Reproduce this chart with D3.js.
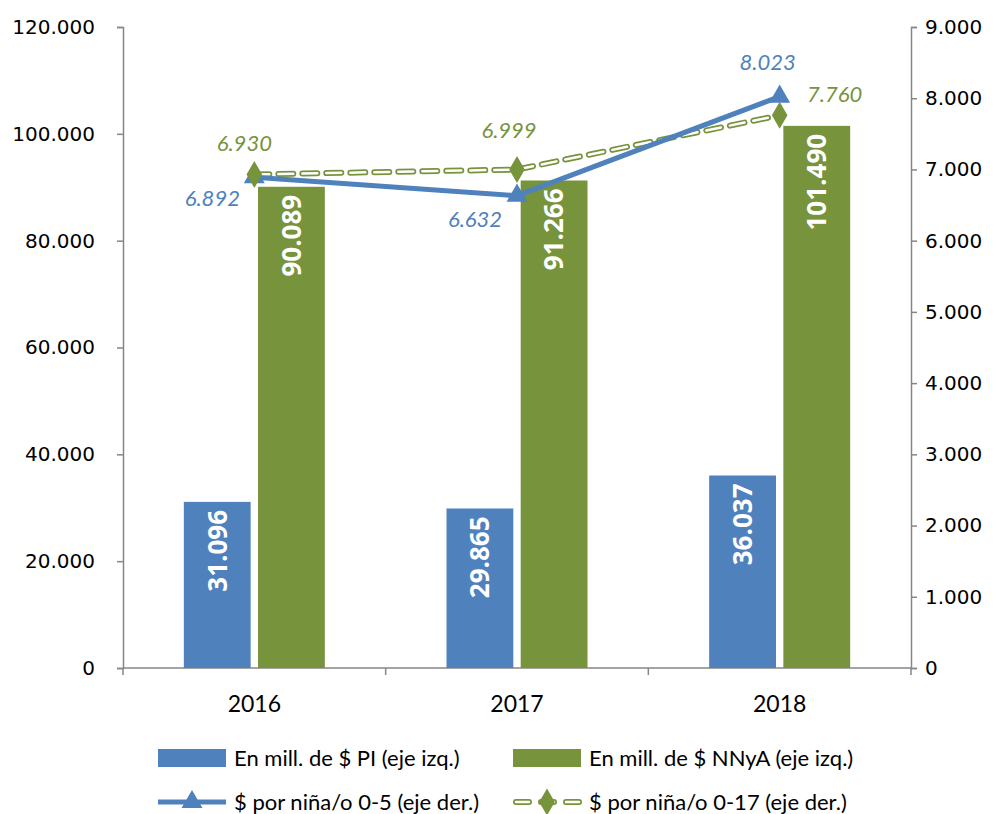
<!DOCTYPE html>
<html>
<head>
<meta charset="utf-8">
<script src="https://cdn.jsdelivr.net/npm/d3@7"></script>
<style>
  body { margin: 0; background: #fff; }
  svg { font-family: "DejaVu Sans", sans-serif; }
</style>
</head>
<body>
<div id="chart"></div>
<script>
// data
var years = ["2016", "2017", "2018"];
var montoPI = [31096, 29865, 36037];
var montoNNyA = [90089, 91266, 101490];
var porNino05 = [6892, 6632, 8023];
var porNino017 = [6930, 6999, 7760];
var leftTicks = [0, 20000, 40000, 60000, 80000, 100000, 120000];
var rightTicks = [0, 1000, 2000, 3000, 4000, 5000, 6000, 7000, 8000, 9000];
var legendLabels = ["En mill. de $ PI (eje izq.)", "En mill. de $ NNyA (eje izq.)",
                    "$ por niña/o 0-5 (eje der.)", "$ por niña/o 0-17 (eje der.)"];

var blue = "#4F81BD";
var green = "#77933C";
var axisGray = "#868686";

var svgWidth = 1000, svgHeight = 814;
var margin = { top: 27, left: 123, right: 89, bottom: 146 };
var width = svgWidth - margin.left - margin.right;
var height = svgHeight - margin.top - margin.bottom;

var fmt = function(v) { return d3.format(",")(v).replace(/,/g, "."); };

var svg = d3.select("#chart").append("svg")
    .attr("width", svgWidth)
    .attr("height", svgHeight);

var g = svg.append("g")
    .attr("transform", `translate(${margin.left}, ${margin.top})`);

// scales
var x = d3.scaleBand().domain(years).range([0, width]).paddingInner(0).paddingOuter(0);
var yLeft = d3.scaleLinear().domain([0, 120000]).range([height, 0]);
var yRight = d3.scaleLinear().domain([0, 9000]).range([height, 0]);

var barW = 67, barGap = 7;
var xBar = d3.scaleBand().domain(["pi", "nnya"]).range([-barW - barGap / 2, barW + barGap / 2]).paddingInner(barGap / (barW * 2 + barGap) * 2);

// axes
var leftAxis = g.append("g")
    .call(d3.axisLeft(yLeft).tickValues(leftTicks).tickFormat(fmt).tickSize(6).tickPadding(22));
var rightAxis = g.append("g")
    .attr("transform", `translate(${width}, 0)`)
    .call(d3.axisRight(yRight).tickValues(rightTicks).tickFormat(fmt).tickSize(6).tickPadding(8));
[leftAxis, rightAxis].forEach(function(a) {
  a.selectAll("path, line").attr("stroke", axisGray).attr("stroke-width", 1.5);
  a.selectAll("text").attr("fill", "#000").style("font-size", "20px")
      .style("font-family", "'DejaVu Sans', sans-serif");
});

// x axis with ticks on band boundaries
var xAxisG = g.append("g").attr("transform", `translate(0, ${height})`);
xAxisG.append("line").attr("x1", 0).attr("x2", width)
    .attr("stroke", axisGray).attr("stroke-width", 1.5);
xAxisG.selectAll(".tk")
    .data(years.concat(["end"]))
    .enter().append("line")
    .attr("x1", (d, i) => i * x.bandwidth())
    .attr("x2", (d, i) => i * x.bandwidth())
    .attr("y1", 0).attr("y2", 7)
    .attr("stroke", axisGray).attr("stroke-width", 1.5);
xAxisG.selectAll(".yl")
    .data(years)
    .enter().append("text")
    .attr("x", d => x(d) + x.bandwidth() / 2)
    .attr("y", 44)
    .attr("text-anchor", "middle")
    .style("font-family", "Lato, sans-serif")
    .style("font-size", "23px")
    .text(d => d);

// bars
var series = [
  { key: "pi", values: montoPI, color: blue },
  { key: "nnya", values: montoNNyA, color: green }
];
series.forEach(function(s) {
  var bars = g.append("g");
  bars.selectAll("rect")
    .data(s.values)
    .enter().append("rect")
    .attr("x", (d, i) => x(years[i]) + x.bandwidth() / 2 + xBar(s.key))
    .attr("width", xBar.bandwidth())
    .attr("y", d => yLeft(d))
    .attr("height", d => height - yLeft(d))
    .attr("fill", s.color);
  bars.selectAll("text")
    .data(s.values)
    .enter().append("text")
    .attr("transform", (d, i) => {
      var cx = x(years[i]) + x.bandwidth() / 2 + xBar(s.key) + xBar.bandwidth() / 2;
      return `translate(${cx}, ${yLeft(d) + 8}) rotate(-90)`;
    })
    .attr("text-anchor", "end")
    .attr("dy", "0.36em")
    .attr("fill", "#fff")
    .style("font-family", "'Open Sans', sans-serif")
    .style("font-weight", "bold")
    .style("font-size", "26px")
    .text(d => fmt(d));
});

// lines
var cx = (d, i) => x(years[i]) + x.bandwidth() / 2;
var lineR = d3.line().x(cx).y(d => yRight(d));

// green dashed double line
g.append("path").datum(porNino017)
  .attr("d", lineR).attr("fill", "none")
  .attr("stroke", green).attr("stroke-width", 6)
  .attr("stroke-dasharray", "15 9").attr("stroke-linecap", "round");
g.append("path").datum(porNino017)
  .attr("d", lineR).attr("fill", "none")
  .attr("stroke", "#fff").attr("stroke-width", 2.5)
  .attr("stroke-dasharray", "15 9").attr("stroke-linecap", "round");

// blue solid line
g.append("path").datum(porNino05)
  .attr("d", lineR).attr("fill", "none")
  .attr("stroke", blue).attr("stroke-width", 5);

var tri = d3.symbol().type(d3.symbolTriangle).size(190);
var dia = d3.symbol().type(d3.symbolDiamond).size(210);

g.selectAll(".tri").data(porNino05).enter().append("path")
  .attr("d", tri)
  .attr("transform", (d, i) => `translate(${cx(d, i)}, ${yRight(d)})`)
  .attr("fill", blue);
g.selectAll(".dia").data(porNino017).enter().append("path")
  .attr("d", dia)
  .attr("transform", (d, i) => `translate(${cx(d, i)}, ${yRight(d)})`)
  .attr("fill", green);

// point labels
var blueOff = [[-42, 29], [-42, 31], [-12, -27]];
var greenOff = [[-10, -23], [-8, -32], [55, -13]];
g.selectAll(".lb").data(porNino05).enter().append("text")
  .attr("x", (d, i) => cx(d, i) + blueOff[i][0])
  .attr("y", (d, i) => yRight(d) + blueOff[i][1])
  .attr("text-anchor", "middle")
  .attr("fill", blue)
  .style("font-family", "Lato, sans-serif").style("font-style", "italic")
  .style("font-size", "22px")
  .text(d => fmt(d));
g.selectAll(".lg").data(porNino017).enter().append("text")
  .attr("x", (d, i) => cx(d, i) + greenOff[i][0])
  .attr("y", (d, i) => yRight(d) + greenOff[i][1])
  .attr("text-anchor", "middle")
  .attr("fill", green)
  .style("font-family", "Lato, sans-serif").style("font-style", "italic")
  .style("font-size", "22px")
  .text(d => fmt(d));

// legend
var legend = svg.append("g");
var legPos = [[158, 758], [513, 758], [158, 802], [513, 802]];
legPos.forEach(function(p, i) {
  var lg = legend.append("g").attr("transform", `translate(${p[0]}, ${p[1]})`);
  if (i === 0 || i === 1) {
    lg.append("rect").attr("x", 0).attr("y", -9).attr("width", 68).attr("height", 18)
      .attr("fill", i === 0 ? blue : green);
  } else if (i === 2) {
    lg.append("line").attr("x1", 0).attr("x2", 68).attr("stroke", blue).attr("stroke-width", 5);
    lg.append("path").attr("d", tri).attr("transform", "translate(34, 0)").attr("fill", blue);
  } else {
    lg.append("line").attr("x1", 3).attr("x2", 66).attr("stroke", green).attr("stroke-width", 6)
      .attr("stroke-dasharray", "13 12").attr("stroke-linecap", "round");
    lg.append("line").attr("x1", 3).attr("x2", 66).attr("stroke", "#fff").attr("stroke-width", 2.5)
      .attr("stroke-dasharray", "13 12").attr("stroke-linecap", "round");
    lg.append("path").attr("d", dia).attr("transform", "translate(34, 0)").attr("fill", green);
  }
  lg.append("text").attr("x", 76).attr("dy", "0.35em")
    .style("font-family", "Lato, sans-serif").style("font-size", "22px")
    .text(legendLabels[i]);
});
</script>
</body>
</html>
